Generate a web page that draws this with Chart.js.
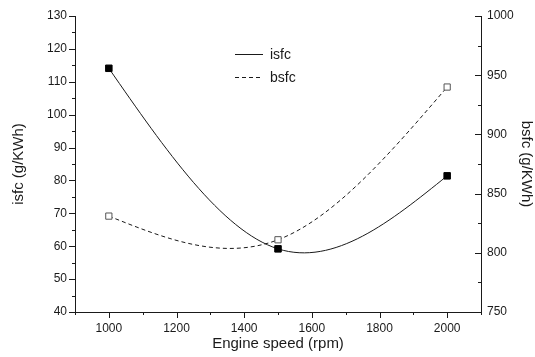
<!DOCTYPE html>
<html><head><meta charset="utf-8">
<script src="https://cdn.jsdelivr.net/npm/chart.js@4.4.0/dist/chart.umd.min.js"></script>
<style>html,body{margin:0;padding:0;background:#fff}#wrap{width:535px;height:357px}</style>
</head><body><div id="wrap"><canvas id="c" width="535" height="357"></canvas></div>
<script>
const engineSpeed = [1000, 1500, 2000];
const isfcValues = [114.1, 59.2, 81.4];
const bsfcValues = [831, 811, 940];
const xTicks = [1000, 1200, 1400, 1600, 1800, 2000];
const xMinorTicks = [900, 1100, 1300, 1500, 1700, 1900, 2100];
const isfcTicks = [40, 50, 60, 70, 80, 90, 100, 110, 120, 130];
const isfcMinorTicks = [45, 55, 65, 75, 85, 95, 105, 115, 125];
const bsfcTicks = [750, 800, 850, 900, 950, 1000];
const bsfcMinorTicks = [775, 825, 875, 925, 975];

const FONT = "'Liberation Sans', Arial, sans-serif";
const INK = '#1a1a1a';

// Natural cubic spline (Origin-style) via Bezier control points of the line element
const splinePlugin = {
  id: 'naturalSpline',
  beforeDatasetsDraw(chart) {
    chart.data.datasets.forEach((d, di) => {
      const meta = chart.getDatasetMeta(di);
      const line = meta.dataset;
      if (!line) return;
      if (line.updateControlPoints) line.updateControlPoints(chart.chartArea, 'x');
      const pts = meta.data;
      const n = pts.length;
      if (n < 3) return;
      const xs = pts.map(p => p.x), ys = pts.map(p => p.y);
      const h = [];
      for (let i = 0; i < n - 1; i++) h.push(xs[i + 1] - xs[i]);
      // tridiagonal solve for interior second derivatives
      const M = new Array(n).fill(0);
      const a = [], b = [], c = [], r = [];
      for (let i = 1; i < n - 1; i++) {
        a.push(h[i - 1]); b.push(2 * (h[i - 1] + h[i])); c.push(h[i]);
        r.push(6 * ((ys[i + 1] - ys[i]) / h[i] - (ys[i] - ys[i - 1]) / h[i - 1]));
      }
      const m = b.length;
      for (let i = 1; i < m; i++) { const w = a[i] / b[i - 1]; b[i] -= w * c[i - 1]; r[i] -= w * r[i - 1]; }
      const sol = new Array(m);
      for (let i = m - 1; i >= 0; i--) sol[i] = (r[i] - (i < m - 1 ? c[i] * sol[i + 1] : 0)) / b[i];
      for (let i = 0; i < m; i++) M[i + 1] = sol[i];
      for (let i = 0; i < n - 1; i++) {
        const hh = h[i], dy = (ys[i + 1] - ys[i]) / hh;
        const s0 = dy - hh * (2 * M[i] + M[i + 1]) / 6;
        const s1 = dy + hh * (M[i] + 2 * M[i + 1]) / 6;
        pts[i].cp2x = xs[i] + hh / 3; pts[i].cp2y = ys[i] + s0 * hh / 3;
        pts[i + 1].cp1x = xs[i + 1] - hh / 3; pts[i + 1].cp1y = ys[i + 1] - s1 * hh / 3;
      }
      pts[0].cp1x = xs[0]; pts[0].cp1y = ys[0];
      pts[n - 1].cp2x = xs[n - 1]; pts[n - 1].cp2y = ys[n - 1];
      line._pointsUpdated = true;
      delete line._path;
    });
  }
};

const tickPlugin = {
  id: 'originTicks',
  afterDraw(chart) {
    const ctx = chart.ctx;
    const sx = chart.scales.x, sy = chart.scales.y, sy1 = chart.scales.y1;
    const ca = chart.chartArea;
    ctx.save();
    ctx.strokeStyle = INK;
    ctx.lineWidth = 1;
    ctx.beginPath();
    xTicks.forEach(v => { const p = Math.round(sx.getPixelForValue(v)) + 0.5; ctx.moveTo(p, ca.bottom); ctx.lineTo(p, ca.bottom + 6); });
    xMinorTicks.forEach(v => { const p = Math.round(sx.getPixelForValue(v)) + 0.5; ctx.moveTo(p, ca.bottom); ctx.lineTo(p, ca.bottom + 3); });
    isfcTicks.forEach(v => { const p = Math.round(sy.getPixelForValue(v)) + 0.5; ctx.moveTo(ca.left, p); ctx.lineTo(ca.left - 6, p); });
    isfcMinorTicks.forEach(v => { const p = Math.round(sy.getPixelForValue(v)) + 0.5; ctx.moveTo(ca.left, p); ctx.lineTo(ca.left - 3, p); });
    bsfcTicks.forEach(v => { const p = Math.round(sy1.getPixelForValue(v)) + 0.5; ctx.moveTo(ca.right, p); ctx.lineTo(ca.right - 6, p); });
    bsfcMinorTicks.forEach(v => { const p = Math.round(sy1.getPixelForValue(v)) + 0.5; ctx.moveTo(ca.right, p); ctx.lineTo(ca.right - 3, p); });
    ctx.stroke();

    // legend
    const ds = chart.data.datasets;
    const rows = [{y: 54, dash: []}, {y: 77, dash: [4, 3]}];
    ctx.font = '14px ' + FONT;
    ctx.fillStyle = INK;
    ctx.textBaseline = 'middle';
    rows.forEach((r, i) => {
      ctx.setLineDash(r.dash);
      ctx.beginPath();
      ctx.moveTo(235, r.y + 0.5); ctx.lineTo(263, r.y + 0.5);
      ctx.stroke();
      ctx.setLineDash([]);
      ctx.fillText(ds[i].label, 270, r.y + 1);
    });
    ctx.restore();
  }
};

const fixedTicks = arr => scale => { scale.ticks = arr.map(v => ({value: v})); };
const plainLabel = v => String(v);

new Chart(document.getElementById('c'), {
  type: 'line',
  data: {
    datasets: [
      {
        label: 'isfc',
        data: engineSpeed.map((x, i) => ({x, y: isfcValues[i]})),
        yAxisID: 'y',
        borderColor: INK, borderWidth: 1, tension: 0.4,
        pointStyle: 'rect', pointRadius: 4.6, pointBackgroundColor: '#000', pointBorderColor: '#000', pointBorderWidth: 1
      },
      {
        label: 'bsfc',
        data: engineSpeed.map((x, i) => ({x, y: bsfcValues[i]})),
        yAxisID: 'y1',
        borderColor: INK, borderWidth: 1, borderDash: [4, 3], tension: 0.4,
        pointStyle: 'rect', pointRadius: 4.4, pointBackgroundColor: '#fff', pointBorderColor: '#555', pointBorderWidth: 1
      }
    ]
  },
  options: {
    responsive: false, animation: false, devicePixelRatio: 1,
    layout: {padding: {top: 16, left: 0, right: 0, bottom: 0}},
    plugins: {legend: {display: false}, tooltip: {enabled: false}},
    scales: {
      x: {
        type: 'linear', min: 900, max: 2100,
        afterBuildTicks: fixedTicks(xTicks),
        afterFit: s => { s.height = 45; },
        grid: {display: false, drawTicks: false},
        border: {display: true, color: INK, width: 1},
        ticks: {color: INK, font: {family: FONT, size: 12}, padding: 9, maxRotation: 0, callback: plainLabel},
        title: {display: true, text: 'Engine speed (rpm)', color: INK, font: {family: FONT, size: 15}, padding: {top: 0, bottom: 4}}
      },
      y: {
        type: 'linear', position: 'left', min: 40, max: 130,
        afterBuildTicks: fixedTicks(isfcTicks),
        afterFit: s => { s.width = 75; },
        grid: {display: false, drawTicks: false},
        border: {display: true, color: INK, width: 1},
        ticks: {color: INK, font: {family: FONT, size: 12}, padding: 8, callback: plainLabel},
        title: {display: true, text: 'isfc (g/KWh)', color: INK, font: {family: FONT, size: 15}, padding: {top: 10, bottom: 0}}
      },
      y1: {
        type: 'linear', position: 'right', min: 750, max: 1000,
        afterBuildTicks: fixedTicks(bsfcTicks),
        afterFit: s => { s.width = 54; },
        grid: {display: false, drawTicks: false},
        border: {display: true, color: INK, width: 1},
        ticks: {color: INK, font: {family: FONT, size: 12}, padding: 6, callback: plainLabel},
        title: {display: true, text: 'bsfc (g/KWh)', color: INK, font: {family: FONT, size: 15}, padding: {top: 0, bottom: 0}}
      }
    }
  },
  plugins: [splinePlugin, tickPlugin]
});
</script>
</body></html>
